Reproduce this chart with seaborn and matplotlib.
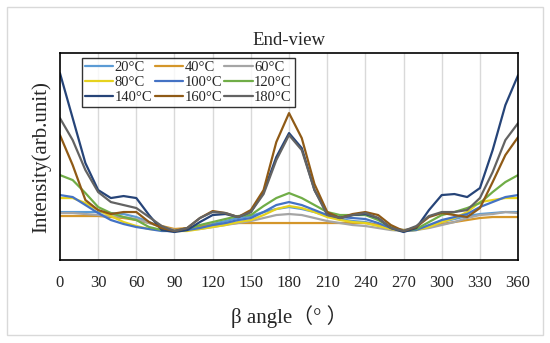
import pandas as pd
import matplotlib.pyplot as plt
import seaborn as sns
from matplotlib.patches import Rectangle

# angle samples (deg) and intensity readings (arb. units) per temperature
angles = list(range(0, 361, 10))

t20 = [48, 48, 48, 48, 47, 46, 43, 38, 33, 30, 31, 33, 36, 39, 42, 44, 48, 51, 53,
       51, 48, 44, 41, 39, 38, 35, 32, 30, 31, 34, 38, 41, 44, 46, 47, 48, 48]
t40 = [44, 44, 44, 44, 43, 42, 40, 37, 34, 31, 32, 34, 35, 36, 37, 37, 37, 37, 37,
       37, 37, 37, 37, 37, 37, 35, 32, 30, 31, 34, 36, 38, 40, 42, 43, 43, 43]
t60 = [47, 47, 46, 45, 44, 43, 41, 37, 33, 30, 30, 31, 33, 35, 37, 39, 42, 45, 46,
       45, 42, 39, 37, 35, 34, 32, 30, 29, 30, 32, 35, 38, 42, 45, 46, 48, 47]
t80 = [62, 62, 57, 50, 44, 38, 34, 31, 30, 29, 29, 31, 33, 35, 38, 40, 45, 51, 54,
       52, 48, 43, 40, 38, 37, 34, 31, 29, 30, 33, 38, 42, 48, 58, 60, 62, 62]
t100 = [65, 63, 55, 47, 40, 36, 33, 31, 29, 29, 30, 32, 35, 37, 40, 42, 48, 55, 58,
        55, 50, 45, 43, 42, 41, 37, 32, 29, 30, 35, 40, 43, 46, 53, 58, 63, 65]
t120 = [85, 80, 67, 53, 47, 43, 40, 33, 30, 29, 31, 35, 38, 41, 44, 45, 54, 62, 67,
        62, 55, 48, 45, 45, 45, 40, 33, 29, 31, 38, 45, 48, 52, 57, 68, 78, 85]
t140 = [187, 142, 97, 70, 62, 64, 62, 45, 30, 28, 30, 38, 45, 46, 43, 48, 68, 103, 127,
        112, 70, 47, 42, 45, 46, 42, 32, 28, 32, 50, 65, 66, 63, 72, 110, 155, 185]
t160 = [125, 95, 60, 50, 46, 48, 48, 38, 32, 29, 32, 42, 49, 47, 43, 50, 70, 118, 147,
        122, 76, 48, 42, 46, 48, 45, 35, 29, 33, 43, 47, 45, 43, 52, 78, 105, 123]
t180 = [142, 120, 90, 68, 58, 55, 52, 43, 34, 29, 32, 42, 48, 47, 43, 48, 66, 100, 125,
        110, 70, 45, 42, 45, 47, 42, 32, 29, 34, 44, 48, 48, 50, 62, 88, 120, 137]

labels = ['20°C', '40°C', '60°C', '80°C', '100°C', '120°C', '140°C', '160°C', '180°C']
series = [t20, t40, t60, t80, t100, t120, t140, t160, t180]
colors = ['#5b9bd5', '#d4962a', '#a5a5a5', '#e6d21e', '#4472c4',
          '#70ad47', '#264478', '#8f5a16', '#636363']
xticks = list(range(0, 361, 30))

df = pd.DataFrame({
    'angle': angles * len(series),
    'intensity': [v for s in series for v in s],
    'temp': [lab for lab in labels for _ in angles],
})

sns.set_style('white')
plt.rcParams['font.family'] = ['Liberation Serif', 'Noto Sans CJK SC', 'DejaVu Sans']

fig = plt.figure(figsize=(5.5, 3.43), dpi=100)
ax = fig.add_axes([0.109, 0.242, 0.833, 0.603])

sns.lineplot(data=df, x='angle', y='intensity', hue='temp', hue_order=labels,
             palette=dict(zip(labels, colors)), linewidth=1.6, ax=ax, legend=False)

ax.set_xlim(0, 360)
ax.set_ylim(0, 207)
ax.set_xticks(xticks)
ax.set_yticks([])
ax.tick_params(axis='x', length=0, pad=11, labelsize=12)
for x in xticks[1:-1]:
    ax.axvline(x, color='#d9d9d9', linewidth=1, zorder=0)
for sp in ax.spines.values():
    sp.set_color('black')
    sp.set_linewidth(1.2)

ax.set_title('End-view', fontsize=13.5, pad=6)
ax.set_xlabel('β angle（° ）', fontsize=15, labelpad=10)
ax.set_ylabel('Intensity(arb.unit)', fontsize=15, labelpad=6)

# legend filled row by row, as in the reference (ncol fills column-wise)
order = [0, 3, 6, 1, 4, 7, 2, 5, 8]
handles = [plt.Line2D([], [], color=colors[i], linewidth=1.6) for i in order]
leg = ax.legend(handles, [labels[i] for i in order], ncol=3, loc='upper left',
                bbox_to_anchor=(0.048, 0.975), fontsize=10.5, frameon=True, fancybox=False,
                handlelength=1.95, handletextpad=0.1, columnspacing=0.15, labelspacing=0.1,
                borderpad=0.2, borderaxespad=0)
leg.get_frame().set_edgecolor('black')
leg.get_frame().set_linewidth(1.0)

fig.patches.append(Rectangle((7 / 550, 8 / 343), 536 / 550, 328 / 343, transform=fig.transFigure,
                             fill=False, edgecolor='#d9d9d9', linewidth=1))

fig.savefig('out.png', dpi=100)
